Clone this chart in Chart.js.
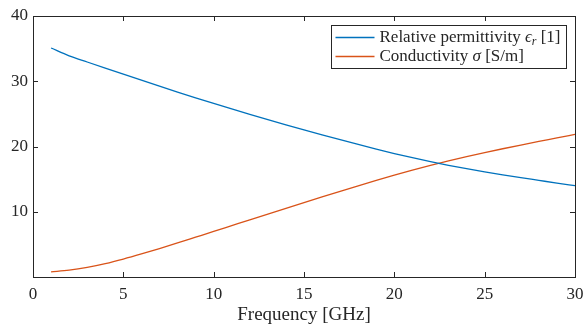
<!DOCTYPE html>
<html>
<head>
<meta charset="utf-8">
<script src="https://cdn.jsdelivr.net/npm/chart.js@4.4.1/dist/chart.umd.min.js"></script>
<style>
  html, body { margin: 0; padding: 0; background: #ffffff; }
  #wrap { width: 584px; height: 326px; }
</style>
</head>
<body>
<div id="wrap"><canvas id="chart" width="584" height="326"></canvas></div>
<script>
// frequency in GHz
var frequency = [1, 2, 3, 4, 5, 6, 7, 8, 9, 10, 11, 12, 13, 14, 15,
  16, 17, 18, 19, 20, 21, 22, 23, 24, 25, 26, 27, 28, 29, 30];
var permittivity = [35.1, 33.9, 32.95, 32.01, 31.08, 30.16, 29.24, 28.34, 27.46, 26.6,
  25.76, 24.93, 24.12, 23.33, 22.56, 21.8, 21.05, 20.32, 19.61, 18.92,
  18.28, 17.68, 17.12, 16.6, 16.11, 15.65, 15.22, 14.81, 14.4, 14.0];
var conductivity = [0.8, 1.05, 1.47, 2.05, 2.75, 3.53, 4.36, 5.22, 6.1, 6.98,
  7.87, 8.76, 9.645, 10.525, 11.4, 12.27, 13.13, 13.975, 14.8, 15.6,
  16.37, 17.1, 17.79, 18.445, 19.065, 19.655, 20.225, 20.775, 21.305, 21.85];
var seriesNames = ["Relative permittivity", "Conductivity"];
var xTitle = "Frequency [GHz]";

var AXIS = "#262626";
var BLUE = "#0072BD";
var ORANGE = "#D95319";
var FONT = "'Liberation Serif', 'DejaVu Serif', serif";

function toPoints(xs, ys) {
  return xs.map(function (x, i) { return { x: x, y: ys[i] }; });
}

// MATLAB style box with inward ticks on all four sides, plus the boxed legend
var boxPlugin = {
  id: "matlabBox",
  afterDatasetsDraw: function (chart) {
    var ctx = chart.ctx, a = chart.chartArea;
    var xs = chart.scales.x, ys = chart.scales.y;
    var tl = 5;
    ctx.save();
    ctx.strokeStyle = AXIS;
    ctx.lineWidth = 1;
    ctx.beginPath();
    xs.ticks.forEach(function (t) {
      var px = Math.round(xs.getPixelForValue(t.value)) + 0.5;
      ctx.moveTo(px, a.bottom); ctx.lineTo(px, a.bottom - tl);
      ctx.moveTo(px, a.top); ctx.lineTo(px, a.top + tl);
    });
    ys.ticks.forEach(function (t) {
      var py = Math.round(ys.getPixelForValue(t.value)) + 0.5;
      ctx.moveTo(a.left, py); ctx.lineTo(a.left + tl, py);
      ctx.moveTo(a.right, py); ctx.lineTo(a.right - tl, py);
    });
    ctx.stroke();
    ctx.strokeRect(Math.round(a.left) + 0.5, Math.round(a.top) + 0.5,
      Math.round(a.right - a.left), Math.round(a.bottom - a.top));
    ctx.restore();
  },
  afterDraw: function (chart) {
    var ctx = chart.ctx;
    var ds = chart.data.datasets;
    var bx = 331.5, by = 25.5, bw = 235, bh = 43;
    ctx.save();
    ctx.fillStyle = "#ffffff";
    ctx.fillRect(bx, by, bw, bh);
    ctx.strokeStyle = AXIS;
    ctx.lineWidth = 1;
    ctx.strokeRect(bx, by, bw, bh);
    var rows = [
      [{ t: ds[0].label + " " }, { t: "\u03f5", i: true }, { t: "r", i: true, sub: true }, { t: " [1]" }],
      [{ t: ds[1].label + " " }, { t: "\u03c3", i: true }, { t: " [S/m]" }]
    ];
    rows.forEach(function (parts, r) {
      var y = by + 12 + r * 19;
      ctx.strokeStyle = ds[r].borderColor;
      ctx.lineWidth = 1.3;
      ctx.beginPath();
      ctx.moveTo(bx + 4, y);
      ctx.lineTo(bx + 43, y);
      ctx.stroke();
      var x = bx + 48;
      ctx.fillStyle = AXIS;
      ctx.textBaseline = "middle";
      parts.forEach(function (p) {
        var size = p.sub ? 12 : 17;
        ctx.font = (p.i ? "italic " : "") + size + "px " + FONT;
        ctx.fillText(p.t, x, y + (p.sub ? 4 : 0));
        x += ctx.measureText(p.t).width;
      });
    });
    ctx.restore();
  }
};

function zeroPad(scale) {
  scale.paddingLeft = 0; scale.paddingRight = 0;
  scale.paddingTop = 0; scale.paddingBottom = 0;
}

new Chart(document.getElementById("chart"), {
  type: "line",
  data: {
    datasets: [
      {
        label: seriesNames[0],
        data: toPoints(frequency, permittivity),
        borderColor: BLUE,
        backgroundColor: BLUE,
        borderWidth: 1.3,
        pointRadius: 0,
        cubicInterpolationMode: "monotone",
        fill: false
      },
      {
        label: seriesNames[1],
        data: toPoints(frequency, conductivity),
        borderColor: ORANGE,
        backgroundColor: ORANGE,
        borderWidth: 1.3,
        pointRadius: 0,
        cubicInterpolationMode: "monotone",
        fill: false
      }
    ]
  },
  options: {
    responsive: false,
    animation: false,
    layout: { padding: { top: 16, right: 9, left: 0, bottom: 0 } },
    plugins: {
      legend: { display: false },
      tooltip: { enabled: false }
    },
    scales: {
      x: {
        type: "linear",
        min: 0,
        max: 30,
        grid: { display: false, drawTicks: false },
        border: { display: false },
        ticks: {
          stepSize: 5,
          padding: 7,
          maxRotation: 0,
          color: AXIS,
          font: { family: FONT, size: 17 }
        },
        title: {
          display: true,
          text: xTitle,
          color: AXIS,
          padding: { top: 0, bottom: 0 },
          font: { family: FONT, size: 19 }
        },
        afterFit: function (scale) {
          zeroPad(scale);
          scale.height = 49;
        }
      },
      y: {
        type: "linear",
        min: 0,
        max: 40,
        grid: { display: false, drawTicks: false },
        border: { display: false },
        ticks: {
          stepSize: 10,
          padding: 5,
          color: AXIS,
          font: { family: FONT, size: 17 },
          callback: function (v) { return v === 0 ? "" : v; }
        },
        afterFit: function (scale) {
          zeroPad(scale);
          scale.width = 33;
        }
      }
    }
  },
  plugins: [boxPlugin]
});
</script>
</body>
</html>
